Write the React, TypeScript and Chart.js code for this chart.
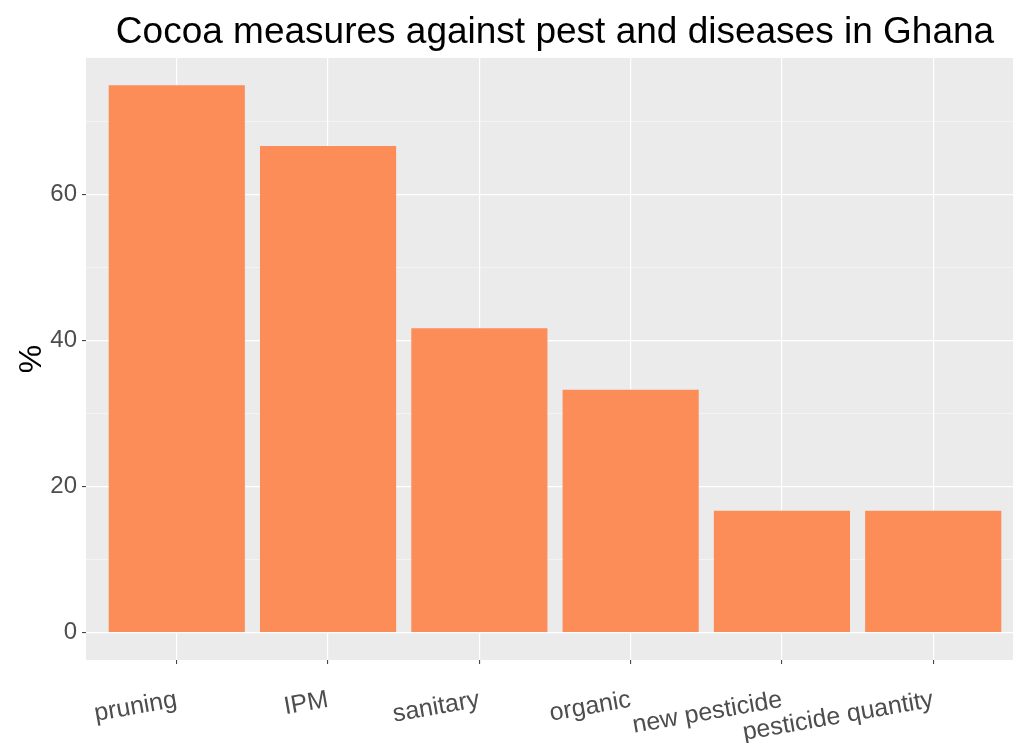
import React, { useEffect, useRef } from "react";
import { Chart, registerables } from "chart.js";

Chart.register(...registerables);

const categories = ["pruning", "IPM", "sanitary", "organic", "new pesticide", "pesticide quantity"];
const values = [75, 66.7, 41.7, 33.3, 16.7, 16.7];
const yMajorTicks = [0, 20, 40, 60];
const yAllTicks = [0, 10, 20, 30, 40, 50, 60, 70];
const titleText = "Cocoa measures against pest and diseases in Ghana";
const yTitle = "%";

const FONT = "Liberation Sans, Arial, sans-serif";

const panelBg = {
  id: "panelBg",
  afterLayout(chart: any) {
    // centre the title over the plotting panel, as ggplot does
    const tb = chart.titleBlock;
    if (tb) {
      tb.left = chart.chartArea.left;
      tb.right = chart.chartArea.right;
      tb.width = tb.right - tb.left;
    }
  },
  beforeDraw(chart: any) {
    const { ctx, chartArea } = chart;
    ctx.save();
    ctx.fillStyle = "#EBEBEB";
    ctx.fillRect(chartArea.left, chartArea.top, chartArea.right - chartArea.left, chartArea.bottom - chartArea.top);
    ctx.restore();
  },
};

export default function App() {
  const ref = useRef<HTMLCanvasElement>(null);
  useEffect(() => {
    if (!ref.current) return;
    const data = values.map((v, i) => ({ x: i + 1, y: v }));
    const chart = new Chart(ref.current, {
      type: "bar",
      data: {
        datasets: [
          {
            data,
            backgroundColor: "#FC8D59",
            borderWidth: 0,
            barPercentage: 0.9,
            categoryPercentage: 1,
          },
        ],
      },
      plugins: [panelBg],
      options: {
        responsive: false,
        animation: false,
        devicePixelRatio: 1,
        layout: { padding: { left: 0, right: 86, top: 0, bottom: 0 } },
        plugins: {
          legend: { display: false },
          tooltip: { enabled: false },
          title: {
            display: true,
            text: titleText,
            color: "#000000",
            font: { family: FONT, size: 37, weight: "normal", lineHeight: 1.2 },
            padding: { top: 11, bottom: 2.6 },
          },
        },
        scales: {
          x: {
            type: "linear",
            min: 0.4,
            max: 6.6,
            offset: false,
            afterBuildTicks(scale: any) {
              scale.ticks = categories.map((_, i) => ({ value: i + 1 }));
            },
            afterFit(scale: any) {
              scale.height = 83;
            },
            border: { display: false },
            grid: {
              offset: false,
              color: "#FFFFFF",
              lineWidth: 1.2,
              drawTicks: true,
              tickLength: 4,
              tickColor: "#333333",
              tickWidth: 1,
            },
            ticks: {
              autoSkip: false,
              maxRotation: 10,
              minRotation: 10,
              padding: 21,
              color: "#4D4D4D",
              font: { family: FONT, size: 25 },
              callback: (v: any) => categories[Math.round(Number(v)) - 1] ?? "",
            },
          },
          y: {
            type: "linear",
            min: -3.75,
            max: 78.75,
            afterBuildTicks(scale: any) {
              scale.ticks = yAllTicks.map((v) => ({ value: v }));
            },
            afterFit(scale: any) {
              scale.width = 86;
            },
            border: { display: false },
            grid: {
              color: (c: any) => (yMajorTicks.includes(c.tick?.value) ? "#FFFFFF" : "rgba(255,255,255,0.65)"),
              lineWidth: (c: any) => (yMajorTicks.includes(c.tick?.value) ? 1.2 : 0.7),
              drawTicks: true,
              tickLength: 4,
              tickColor: (c: any) => (yMajorTicks.includes(c.tick?.value) ? "#333333" : "rgba(0,0,0,0)"),
              tickWidth: 1,
            },
            title: {
              display: true,
              text: yTitle,
              color: "#000000",
              font: { family: FONT, size: 32 },
              padding: { top: 13, bottom: 0 },
            },
            ticks: {
              padding: 5,
              color: "#4D4D4D",
              font: { family: FONT, size: 24 },
              callback: (v: any) => (yMajorTicks.includes(Number(v)) ? String(v) : ""),
            },
          },
        },
      },
    });
    return () => chart.destroy();
  }, []);
  return (
    <div style={{ position: "fixed", left: 0, top: 0, width: 1013, height: 743, overflow: "hidden", background: "#FFFFFF" }}>
      <canvas ref={ref} width={1110} height={743} style={{ display: "block", width: 1110, height: 743 }} />
    </div>
  );
}
